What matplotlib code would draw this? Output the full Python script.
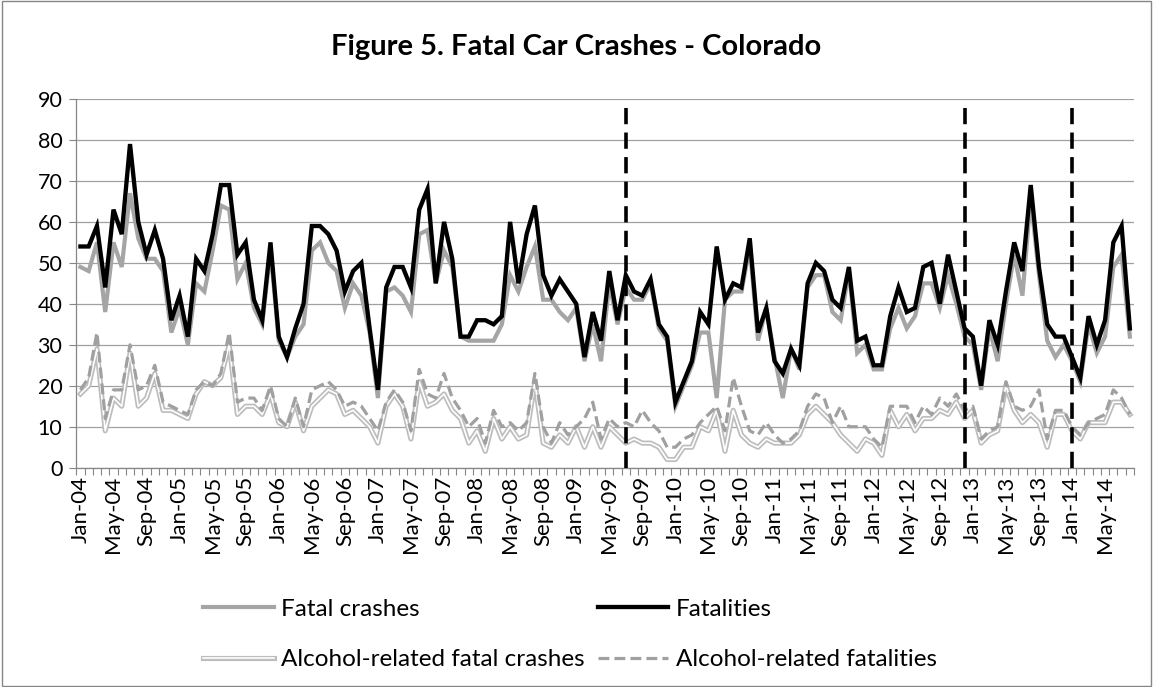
import numpy as np
import pandas as pd
import matplotlib
matplotlib.use("Agg")
import matplotlib.pyplot as plt
import matplotlib.patheffects as pe
from matplotlib.patches import Rectangle

# ---------------- data ----------------
months = list(pd.date_range("2004-01-01", periods=128, freq="MS").strftime("%b-%y"))
tick_labels = months[::4]
event_months = ["Jul-09", "Dec-12", "Jan-14"]

fatalities = [54, 54, 59, 44, 63, 57, 79, 60, 52, 58, 51, 36, 42, 32, 51, 48, 57, 69, 69, 52, 55, 41, 36, 55, 32,
              27, 34, 40, 59, 59, 57, 53, 43, 48, 50, 34, 19, 44, 49, 49, 44, 63, 68, 45, 60, 51, 32, 32, 36, 36,
              35, 37, 60, 45, 57, 64, 47, 42, 46, 43, 40, 27, 38, 31, 48, 36, 47, 43, 42, 46, 35, 32, 16, 21, 26, 38, 35, 54,
              41, 45, 44, 56, 33, 39, 26, 23, 29, 25, 45, 50, 48, 41, 39, 49, 31, 32, 25, 25, 37, 44, 38, 39,
              49, 50, 40, 52, 43, 34, 32, 20, 36, 30, 43, 55, 48, 69, 49, 35, 32, 32, 27, 22, 37, 30, 36, 55, 59, 34]

fatal_crashes = [49, 48, 55, 38, 55, 49, 67, 56, 51, 51, 48, 33, 39, 30, 45, 43, 53, 64, 63, 46, 50, 39, 35, 53, 31,
                 27, 32, 35, 53, 55, 50, 48, 39, 45, 42, 33, 17, 43, 44, 42, 38, 57, 58, 45, 53, 49, 32, 31, 31, 31,
                 31, 35, 47, 43, 49, 54, 41, 41, 38, 36, 39, 26, 35, 26, 45, 35, 44, 41, 41, 45, 34, 31, 15, 20, 25, 33, 33, 17,
                 41, 43, 43, 54, 31, 39, 27, 17, 29, 24, 44, 47, 47, 38, 36, 48, 28, 30, 24, 24, 34, 39, 34, 37,
                 45, 45, 39, 47, 40, 32, 30, 19, 34, 26, 40, 52, 42, 66, 47, 31, 27, 30, 26, 21, 35, 28, 32, 49, 52, 32]

alcohol_fatalities = [19, 22, 33, 12, 19, 19, 30, 19, 20, 25, 16, 15, 14, 13, 19, 21, 20, 23, 33, 16, 17, 17, 14, 20, 12,
                      10, 17, 10, 19, 20, 21, 19, 15, 16, 15, 12, 9, 16, 19, 16, 9, 24, 18, 17, 23, 17, 14, 10, 12, 6,
                      14, 10, 11, 9, 11, 23, 10, 6, 11, 8, 10, 12, 16, 7, 12, 10, 11, 10, 14, 11, 9, 5, 5, 7, 8, 11,
                      13, 15, 9, 22, 15, 9, 8, 11, 8, 6, 7, 9, 15, 18, 17, 11, 15, 10, 10, 10, 7, 5, 15, 15, 15, 11,
                      15, 13, 17, 15, 18, 14, 15, 7, 9, 10, 21, 15, 14, 15, 19, 7, 14, 14, 10, 8, 11, 12, 13, 19, 17, 13]

alcohol_crashes = [18, 20, 29, 9, 17, 15, 28, 15, 17, 23, 14, 14, 13, 12, 18, 21, 20, 22, 30, 13, 15, 15, 13, 18, 11,
                   10, 16, 9, 15, 17, 19, 18, 13, 14, 12, 10, 6, 15, 18, 15, 7, 21, 15, 16, 18, 14, 12, 6, 9, 4,
                   12, 7, 10, 7, 8, 21, 6, 5, 8, 6, 10, 5, 10, 5, 10, 8, 6, 7, 6, 6, 5, 2, 2, 5, 5, 10,
                   9, 14, 4, 14, 8, 6, 5, 7, 6, 6, 6, 8, 13, 15, 13, 11, 8, 6, 4, 7, 6, 3, 14, 10, 13, 9,
                   12, 12, 14, 13, 16, 12, 14, 6, 8, 9, 20, 14, 11, 13, 11, 5, 13, 13, 9, 7, 11, 11, 11, 16, 16, 13]

title = "Figure 5. Fatal Car Crashes - Colorado"

# ---------------- style ----------------
plt.rcParams["font.family"] = ["Lato", "DejaVu Sans"]

W, H = 1153, 687
fig = plt.figure(figsize=(W / 100, H / 100), dpi=100)
ax = fig.add_axes([76.3 / W, 1 - 467.7 / H, (1134 - 76.3) / W, (467.7 - 99) / H])

x = np.arange(len(months))

GRAY = "#a5a5a5"
l1, = ax.plot(x, fatal_crashes, color=GRAY, lw=3.0, solid_joinstyle="miter", zorder=3, label="Fatal crashes")
l2, = ax.plot(x, fatalities, color="black", lw=3.1, solid_joinstyle="miter", zorder=4, label="Fatalities")
l3, = ax.plot(x, alcohol_crashes, color="white", lw=1.2, zorder=5,
              path_effects=[pe.Stroke(linewidth=3.7, foreground="#bdbdbd"), pe.Normal()],
              label="Alcohol-related fatal crashes")
l4, = ax.plot(x, alcohol_fatalities, color="#a0a0a0", lw=2.3, dashes=(3.4, 1.6), zorder=6,
              label="Alcohol-related fatalities")

# event lines
for m in event_months:
    xi = months.index(m)
    ax.plot([xi, xi], [0, 88.6], color="black", lw=2.6, dashes=(4.5, 2.3), zorder=7)

ax.set_xlim(-0.5, len(months) - 0.5)
ax.set_ylim(0, 90)
ax.set_yticks(np.arange(0, 91, 10))
ax.yaxis.grid(True, color="#a0a0a0", lw=0.9)
ax.set_axisbelow(True)

ax.set_xticks([months.index(t) for t in tick_labels])
ax.set_xticklabels(tick_labels, rotation=90, fontsize=16)
ax.set_xticks(np.arange(-0.5, len(months), 1), minor=True)
ax.tick_params(axis="x", which="major", length=0, pad=6)
ax.tick_params(axis="x", which="minor", length=5, width=0.8, color="#868686")
ax.tick_params(axis="y", which="major", length=5, width=0.8, color="#868686", labelsize=15.5, pad=5)

for s in ["top", "right"]:
    ax.spines[s].set_visible(False)
for s in ["left", "bottom"]:
    ax.spines[s].set_color("#868686")
    ax.spines[s].set_linewidth(0.9)

fig.text(0.5, 1 - 47 / H, title, ha="center", va="center", fontsize=21, fontweight="bold")

leg = fig.legend(handles=[l1, l3, l2, l4], ncol=2, loc="center",
                 bbox_to_anchor=(570 / W, 1 - 634.5 / H), frameon=False, fontsize=17.5,
                 handlelength=2.9, handletextpad=0.3, columnspacing=0.55, labelspacing=1.2,
                 borderpad=0)

fig.patches.append(Rectangle((0.0015, 0.002), 0.997, 0.996, transform=fig.transFigure,
                             fill=False, edgecolor="#868686", lw=1.0))

fig.savefig("out.png", dpi=100)
